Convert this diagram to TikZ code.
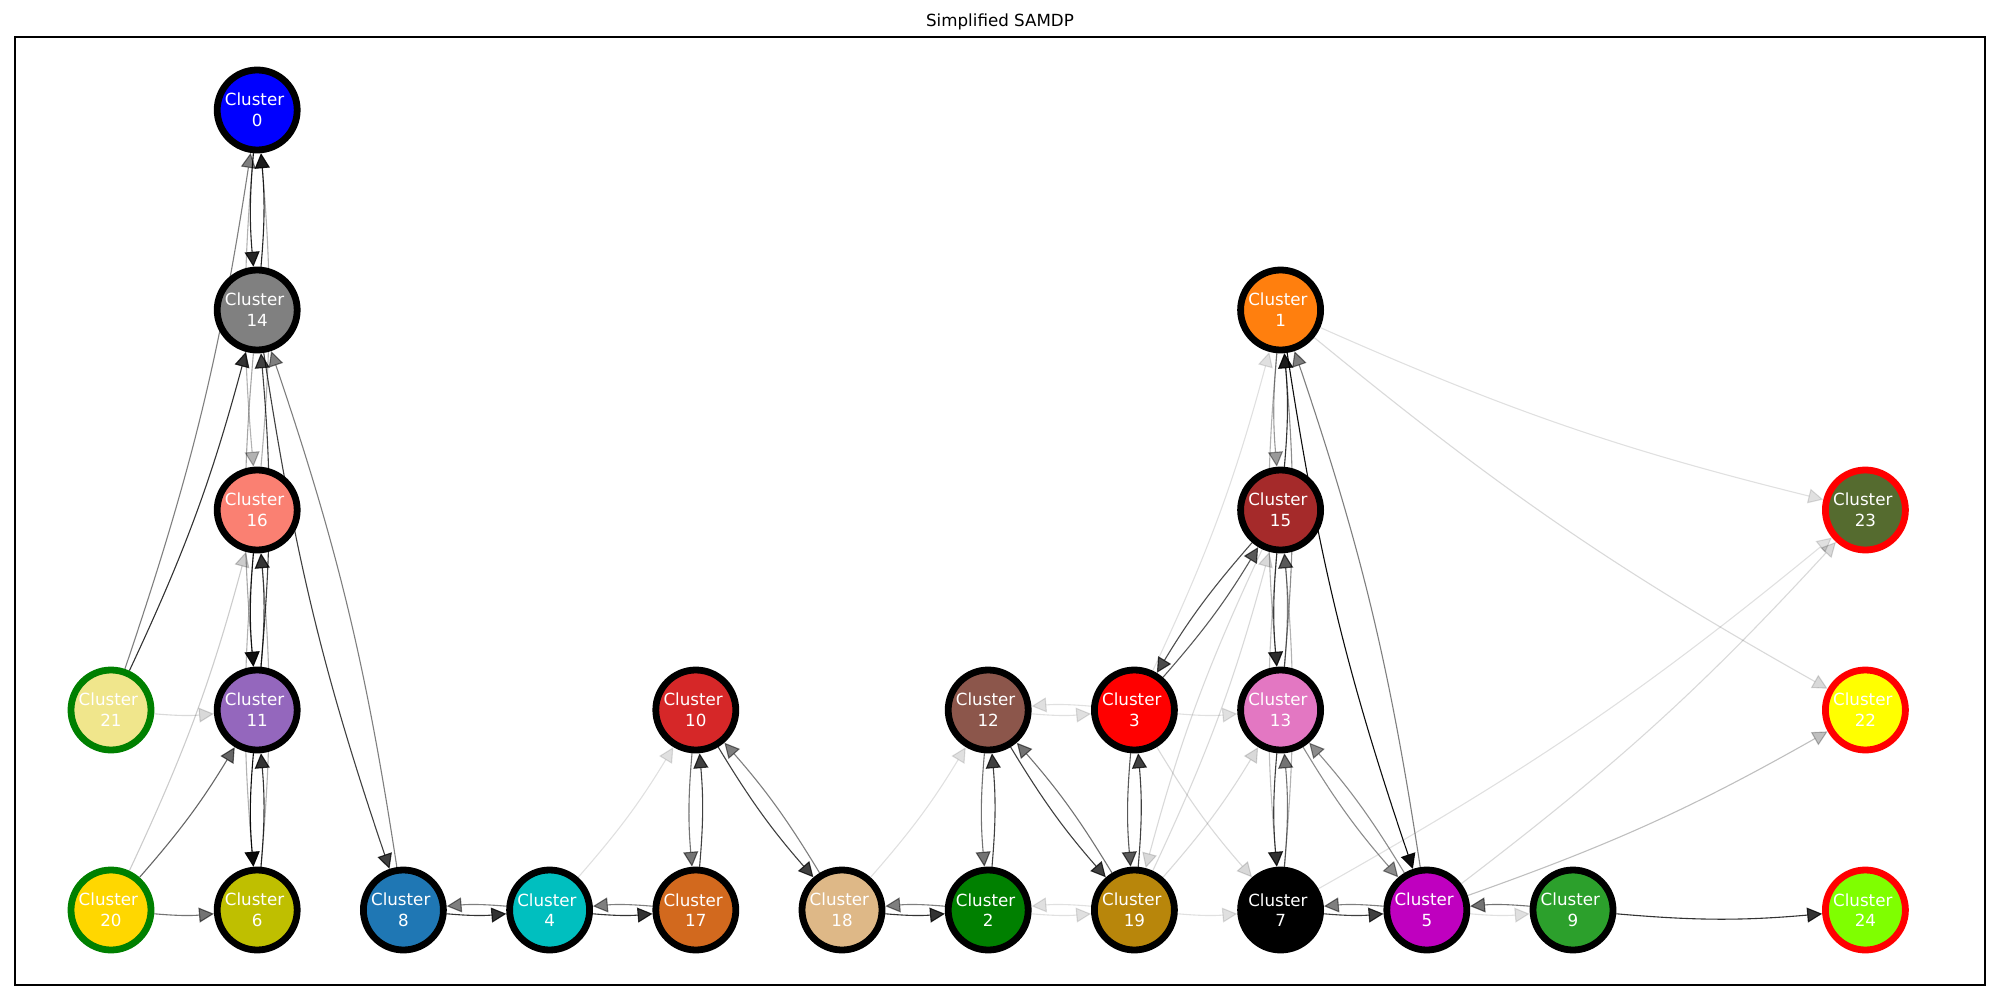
\documentclass[tikz,border=0pt]{standalone}
\usepackage{fontspec}
\setmainfont{DejaVu Sans}
\usetikzlibrary{arrows.meta,backgrounds}
\definecolor{c0}{HTML}{0000FF}
\definecolor{c14}{HTML}{808080}
\definecolor{c16}{HTML}{FA8072}
\definecolor{c11}{HTML}{9467BD}
\definecolor{c6}{HTML}{BFBF00}
\definecolor{c21}{HTML}{F0E68C}
\definecolor{c20}{HTML}{FFD700}
\definecolor{c8}{HTML}{1F77B4}
\definecolor{c4}{HTML}{00BFBF}
\definecolor{c17}{HTML}{D2691E}
\definecolor{c10}{HTML}{D62728}
\definecolor{c18}{HTML}{DEB887}
\definecolor{c2}{HTML}{008000}
\definecolor{c12}{HTML}{8C564B}
\definecolor{c19}{HTML}{B8860B}
\definecolor{c3}{HTML}{FF0000}
\definecolor{c7}{HTML}{000000}
\definecolor{c13}{HTML}{E377C2}
\definecolor{c15}{HTML}{A52A2A}
\definecolor{c1}{HTML}{FF7F0E}
\definecolor{c5}{HTML}{BF00BF}
\definecolor{c9}{HTML}{2CA02C}
\definecolor{c24}{HTML}{7FFF00}
\definecolor{c22}{HTML}{FFFF00}
\definecolor{c23}{HTML}{556B2F}
\definecolor{bgreen}{HTML}{008000}
\definecolor{bred}{HTML}{FF0000}
\newcommand\mynode[4]{\node[cl, fill=c#1, draw=#4] (n#1) at ({111+146.2*#2},{110+200*#3}) {Cluster\rule{0.318em}{0pt}\\#1};}
\newcommand\edg[3]{\draw[edge, opacity=#3] (n#1) to (n#2);}
\begin{document}
\begin{tikzpicture}[x=1pt,y=-1pt,
  cl/.style={circle, minimum size=80pt, inner sep=0pt, outer sep=3.4pt, line width=6.8pt,
    text=white, font=\fontsize{16.7}{20.7}\selectfont, align=center},
  edge/.style={line width=1.1pt, draw=black, -{Triangle[length=15pt,width=15pt]}, bend right=5}]
\useasboundingbox (0,0) rectangle (2000,1000);
\node[font=\fontsize{16.7}{20}\selectfont] (title) at (1000,22) {Simplified SAMDP};
\draw[line width=1.1pt] (15,37) rectangle (1985,985);
% nodes: id, col, row, border
\mynode{0}{1}{0}{black}
\mynode{14}{1}{1}{black}
\mynode{16}{1}{2}{black}
\mynode{11}{1}{3}{black}
\mynode{6}{1}{4}{black}
\mynode{21}{0}{3}{bgreen}
\mynode{20}{0}{4}{bgreen}
\mynode{8}{2}{4}{black}
\mynode{4}{3}{4}{black}
\mynode{17}{4}{4}{black}
\mynode{10}{4}{3}{black}
\mynode{18}{5}{4}{black}
\mynode{2}{6}{4}{black}
\mynode{12}{6}{3}{black}
\mynode{19}{7}{4}{black}
\mynode{3}{7}{3}{black}
\mynode{7}{8}{4}{black}
\mynode{13}{8}{3}{black}
\mynode{15}{8}{2}{black}
\mynode{1}{8}{1}{black}
\mynode{5}{9}{4}{black}
\mynode{9}{10}{4}{black}
\mynode{24}{12}{4}{bred}
\mynode{22}{12}{3}{bred}
\mynode{23}{12}{2}{bred}
\begin{scope}[on background layer]
% column 1
\edg{0}{14}{.85}
\edg{14}{0}{.85}
\edg{0}{16}{.3}
\edg{16}{0}{.3}
\edg{21}{0}{.5}
\edg{21}{14}{.8}
\edg{8}{14}{.5}
\edg{14}{8}{.75}
\edg{14}{11}{.35}
\edg{11}{14}{.75}
\edg{16}{11}{.9}
\edg{11}{16}{.7}
\edg{11}{6}{.95}
\edg{6}{11}{.8}
\edg{16}{6}{.3}
\edg{6}{16}{.3}
\edg{21}{11}{.15}
\edg{20}{6}{.55}
\edg{20}{11}{.6}
\edg{20}{16}{.2}
% middle
\edg{8}{4}{.8}
\edg{4}{8}{.5}
\edg{4}{17}{.8}
\edg{17}{4}{.5}
\edg{4}{10}{.12}
\edg{10}{17}{.55}
\edg{17}{10}{.75}
\edg{10}{18}{.75}
\edg{18}{10}{.5}
\edg{18}{2}{.8}
\edg{2}{18}{.5}
\edg{18}{12}{.12}
\edg{12}{2}{.55}
\edg{2}{12}{.75}
\edg{12}{19}{.75}
\edg{19}{12}{.55}
\edg{2}{19}{.12}
\edg{19}{2}{.12}
\edg{12}{3}{.12}
\edg{3}{12}{.12}
\edg{3}{13}{.12}
\edg{19}{7}{.12}
\edg{3}{19}{.65}
\edg{19}{3}{.75}
\edg{3}{15}{.65}
\edg{15}{3}{.7}
\edg{3}{7}{.15}
\edg{3}{1}{.12}
\edg{19}{15}{.15}
\edg{15}{19}{.15}
\edg{19}{13}{.15}
% right
\edg{1}{15}{.4}
\edg{15}{1}{.8}
\edg{1}{13}{.3}
\edg{13}{1}{.45}
\edg{15}{13}{.75}
\edg{13}{15}{.5}
\edg{15}{7}{.25}
\edg{7}{15}{.3}
\edg{13}{7}{.75}
\edg{7}{13}{.55}
\edg{13}{5}{.45}
\edg{5}{13}{.45}
\edg{1}{5}{.95}
\edg{5}{1}{.5}
\edg{7}{5}{.75}
\edg{5}{7}{.5}
\edg{9}{5}{.55}
\edg{5}{9}{.12}
\edg{9}{24}{.8}
\edg{7}{23}{.12}
\edg{5}{23}{.15}
\edg{5}{22}{.25}
\edg{1}{23}{.12}
\edg{1}{22}{.15}
\end{scope}
\end{tikzpicture}
\end{document}
